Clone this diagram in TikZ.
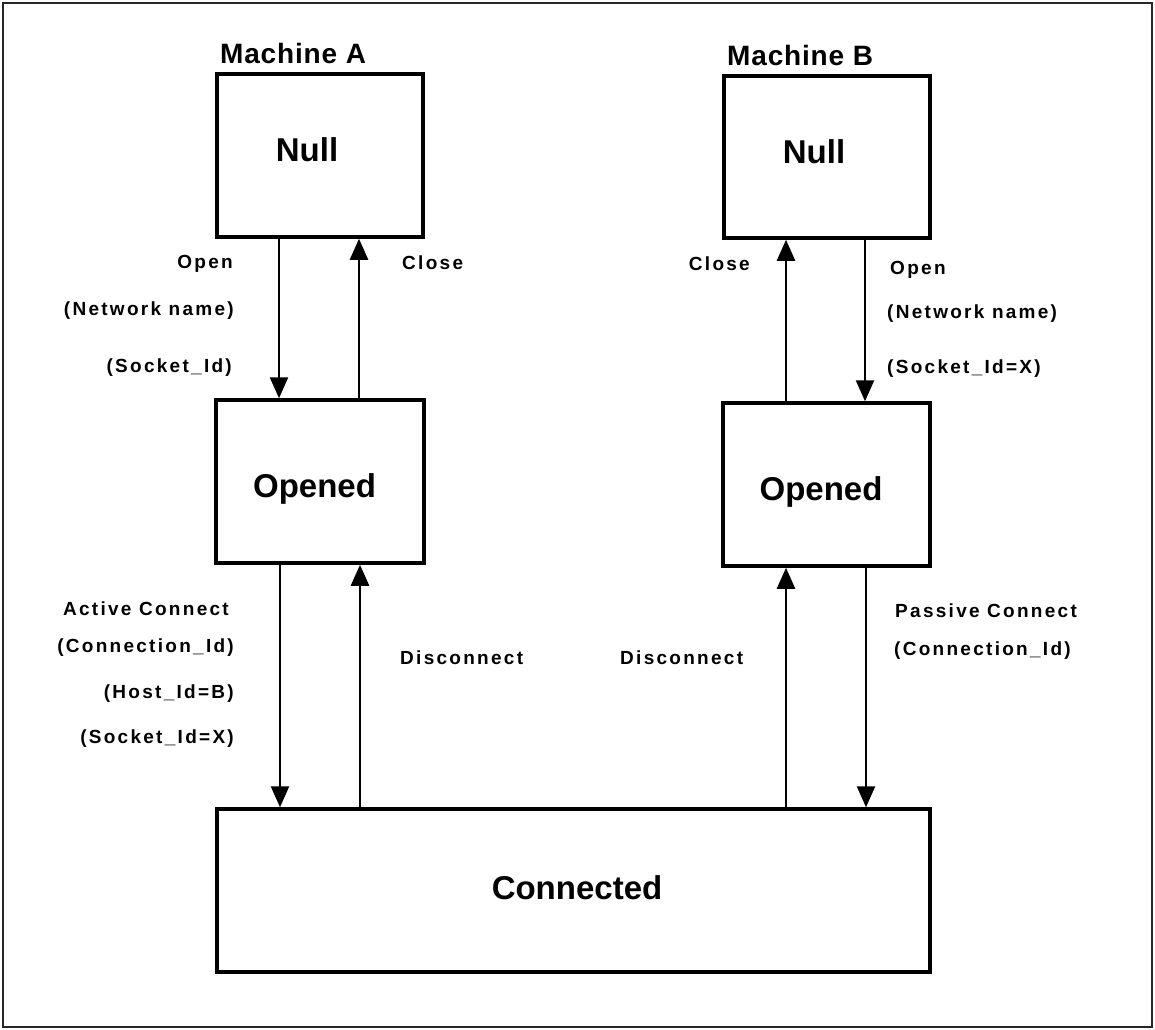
\documentclass[tikz,border=0pt]{standalone}
\usepackage{fontspec}
\setmainfont{Liberation Sans}
\newfontfamily\lblfont{Liberation Sans}[LetterSpace=12]
\newfontfamily\ttlfont{Liberation Sans}[LetterSpace=3]
\usetikzlibrary{arrows.meta}
\begin{document}
\begin{tikzpicture}[x=1pt,y=-1pt,
  box/.style={draw, line width=3.5pt, inner sep=0pt, font=\bfseries\fontsize{33}{40}\selectfont},
  lbl/.style={font=\lblfont\bfseries\fontsize{19}{23}\selectfont, inner sep=0pt, text height=14pt, text depth=4pt},
  ttl/.style={font=\ttlfont\bfseries\fontsize{28}{34}\selectfont, inner sep=0pt, anchor=base west},
  arr/.style={line width=2.5pt, -{Triangle[length=21pt,width=18pt]}}]
\useasboundingbox (0,0) rectangle (1155,1029);
\draw[line width=2pt, black!85] (3,3) rectangle (1152,1027);

% state boxes
\node[box, minimum width=206pt, minimum height=163pt, text depth=11pt] (nullA) at (320,155.5) {Null\hspace*{26pt}};
\node[box, minimum width=208pt, minimum height=163pt, text height=31pt, text depth=0pt] (openA) at (320,481.5) {Opened\hspace*{11pt}};
\node[box, minimum width=206pt, minimum height=162pt, text depth=11pt] (nullB) at (827,157) {Null\hspace*{26pt}};
\node[box, minimum width=207pt, minimum height=163pt, text height=31pt, text depth=0pt] (openB) at (826.5,484.5) {Opened\hspace*{11pt}};
\node[box, minimum width=713pt, minimum height=163pt, text depth=5pt] (conn) at (573.5,890.5) {\hspace*{7pt}Connected};

% titles
\node[ttl] (machA) at (220,63) {Machine A};
\node[ttl] (machB) at (727,65) {Machine B};

% connector x positions
\coordinate (cA1) at (279,0);
\coordinate (cA2) at (359,0);
\coordinate (cA3) at (280,0);
\coordinate (cA4) at (360,0);
\coordinate (cB1) at (786,0);
\coordinate (cB2) at (865,0);
\coordinate (cB3) at (786,0);
\coordinate (cB4) at (866,0);

% connectors
\draw[arr] (cA1 |- nullA.south) -- (cA1 |- openA.north);
\draw[arr] (cA2 |- openA.north) -- (cA2 |- nullA.south);
\draw[arr] (cA3 |- openA.south) -- (cA3 |- conn.north);
\draw[arr] (cA4 |- conn.north) -- (cA4 |- openA.south);
\draw[arr] (cB1 |- openB.north) -- (cB1 |- nullB.south);
\draw[arr] (cB2 |- nullB.south) -- (cB2 |- openB.north);
\draw[arr] (cB3 |- conn.north) -- (cB3 |- openB.south);
\draw[arr] (cB4 |- openB.south) -- (cB4 |- conn.north);

% labels machine A
\node[lbl, anchor=east] (lOpenA) at (233,263) {Open};
\node[lbl, anchor=east] (lNetA) at (234,310) {(Network name)};
\node[lbl, anchor=east] (lSockA) at (232,367) {(Socket\_Id)};
\node[lbl, anchor=west] (lCloseA) at (402,264) {Close};
\node[lbl, anchor=east] (lActive) at (229,610) {Active Connect};
\node[lbl, anchor=east] (lConnA) at (234,647) {(Connection\_Id)};
\node[lbl, anchor=east] (lHost) at (234,693) {(Host\_Id=B)};
\node[lbl, anchor=east] (lSockXA) at (234,738) {(Socket\_Id=X)};
\node[lbl, anchor=west] (lDiscA) at (400,659) {Disconnect};

% labels machine B
\node[lbl, anchor=east] (lCloseB) at (750,265) {Close};
\node[lbl, anchor=west] (lOpenB) at (890,269) {Open};
\node[lbl, anchor=west] (lNetB) at (887,313) {(Network name)};
\node[lbl, anchor=west] (lSockB) at (887,368) {(Socket\_Id=X)};
\node[lbl, anchor=west] (lDiscB) at (620,659) {Disconnect};
\node[lbl, anchor=west] (lPassive) at (895,612) {Passive Connect};
\node[lbl, anchor=west] (lConnB) at (894,650) {(Connection\_Id)};
\end{tikzpicture}
\end{document}
